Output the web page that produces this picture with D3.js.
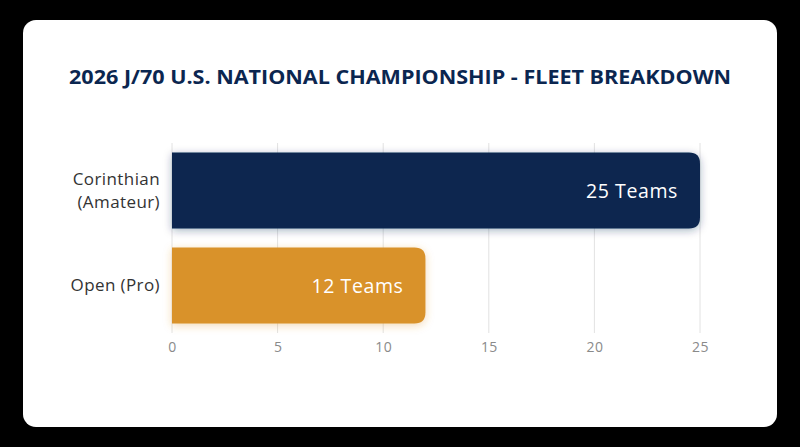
<!DOCTYPE html>
<html>
<head>
<meta charset="utf-8">
<script src="https://cdn.jsdelivr.net/npm/d3@7"></script>
<style>
  html, body { margin: 0; padding: 0; background: #000; }
  svg { display: block; }
</style>
</head>
<body>
<svg width="800" height="447"></svg>
<script>
const categories = [["Corinthian", "(Amateur)"], ["Open (Pro)"]];
const teams = [25, 12];
const barLabels = ["25 Teams", "12 Teams"];
const barColors = ["#0b2650", "#d9922a"];
const tickValues = [0, 5, 10, 15, 20, 25];
const title = "2026 J/70 U.S. NATIONAL CHAMPIONSHIP - FLEET BREAKDOWN";

const font = "'Open Sans', 'DejaVu Sans', sans-serif";
const svg = d3.select("svg");

const defs = svg.append("defs");
barColors.forEach((c, i) => {
  const f = defs.append("filter").attr("id", "glow" + i)
    .attr("x", "-10%").attr("y", "-30%").attr("width", "120%").attr("height", "160%");
  f.append("feDropShadow").attr("dx", 0).attr("dy", 2).attr("stdDeviation", 4)
    .attr("flood-color", c).attr("flood-opacity", 0.35);
});

// card
svg.append("rect")
  .attr("x", 23).attr("y", 20).attr("width", 754).attr("height", 407)
  .attr("rx", 13).attr("fill", "#fff");

svg.append("text")
  .attr("x", 400).attr("y", 84)
  .attr("text-anchor", "middle")
  .attr("font-family", font).attr("font-weight", 700)
  .attr("font-size", 19.5).attr("fill", "#0b2650")
  .attr("textLength", 662).attr("lengthAdjust", "spacingAndGlyphs")
  .text(title);

const x = d3.scaleLinear().domain([0, 25]).range([172, 700]);
const y = d3.scaleBand().domain(d3.range(categories.length))
  .range([143, 333]).paddingInner(0.2).paddingOuter(0.1);

// grid
svg.append("g").selectAll("line").data(tickValues).enter().append("line")
  .attr("x1", d => x(d)).attr("x2", d => x(d))
  .attr("y1", 143).attr("y2", 333)
  .attr("stroke", "#e2e2e2").attr("stroke-width", 1);

// x axis labels
const axis = svg.append("g").attr("transform", "translate(0,333)")
  .call(d3.axisBottom(x).tickValues(tickValues).tickSize(0).tickPadding(9));
axis.select(".domain").remove();
axis.selectAll("text").attr("font-family", font).attr("font-size", 14)
  .attr("letter-spacing", "0.4px").attr("fill", "#8a8a8a");

// bars with rounded right end
const r = 11;
function barPath(x0, x1, y0, h) {
  return `M${x0},${y0}H${x1 - r}Q${x1},${y0} ${x1},${y0 + r}V${y0 + h - r}Q${x1},${y0 + h} ${x1 - r},${y0 + h}H${x0}Z`;
}
svg.append("g").selectAll("path").data(teams).enter().append("path")
  .attr("d", (d, i) => barPath(x(0), x(d), y(i), y.bandwidth()))
  .attr("fill", (d, i) => barColors[i])
  .attr("filter", (d, i) => `url(#glow${i})`);

svg.append("g").selectAll("text").data(teams).enter().append("text")
  .attr("x", d => x(d) - 22)
  .attr("y", (d, i) => y(i) + y.bandwidth() / 2 + 1)
  .attr("dy", "0.35em")
  .attr("text-anchor", "end")
  .attr("font-family", font).attr("font-size", 19.5)
  .attr("letter-spacing", "0.6px").attr("fill", "#fff")
  .text((d, i) => barLabels[i]);

// category labels, one text per line
const lh = 23;
const catRows = [];
categories.forEach((lines, i) => {
  const cy = y(i) + y.bandwidth() / 2;
  lines.forEach((t, j) => catRows.push({ t, yy: cy + (j - (lines.length - 1) / 2) * lh }));
});
svg.append("g").selectAll("text").data(catRows).enter().append("text")
  .attr("x", 160)
  .attr("y", d => d.yy)
  .attr("dy", "0.35em")
  .attr("text-anchor", "end")
  .attr("font-family", font).attr("font-size", 17)
  .attr("letter-spacing", "0.4px").attr("fill", "#333")
  .text(d => d.t);
</script>
</body>
</html>
